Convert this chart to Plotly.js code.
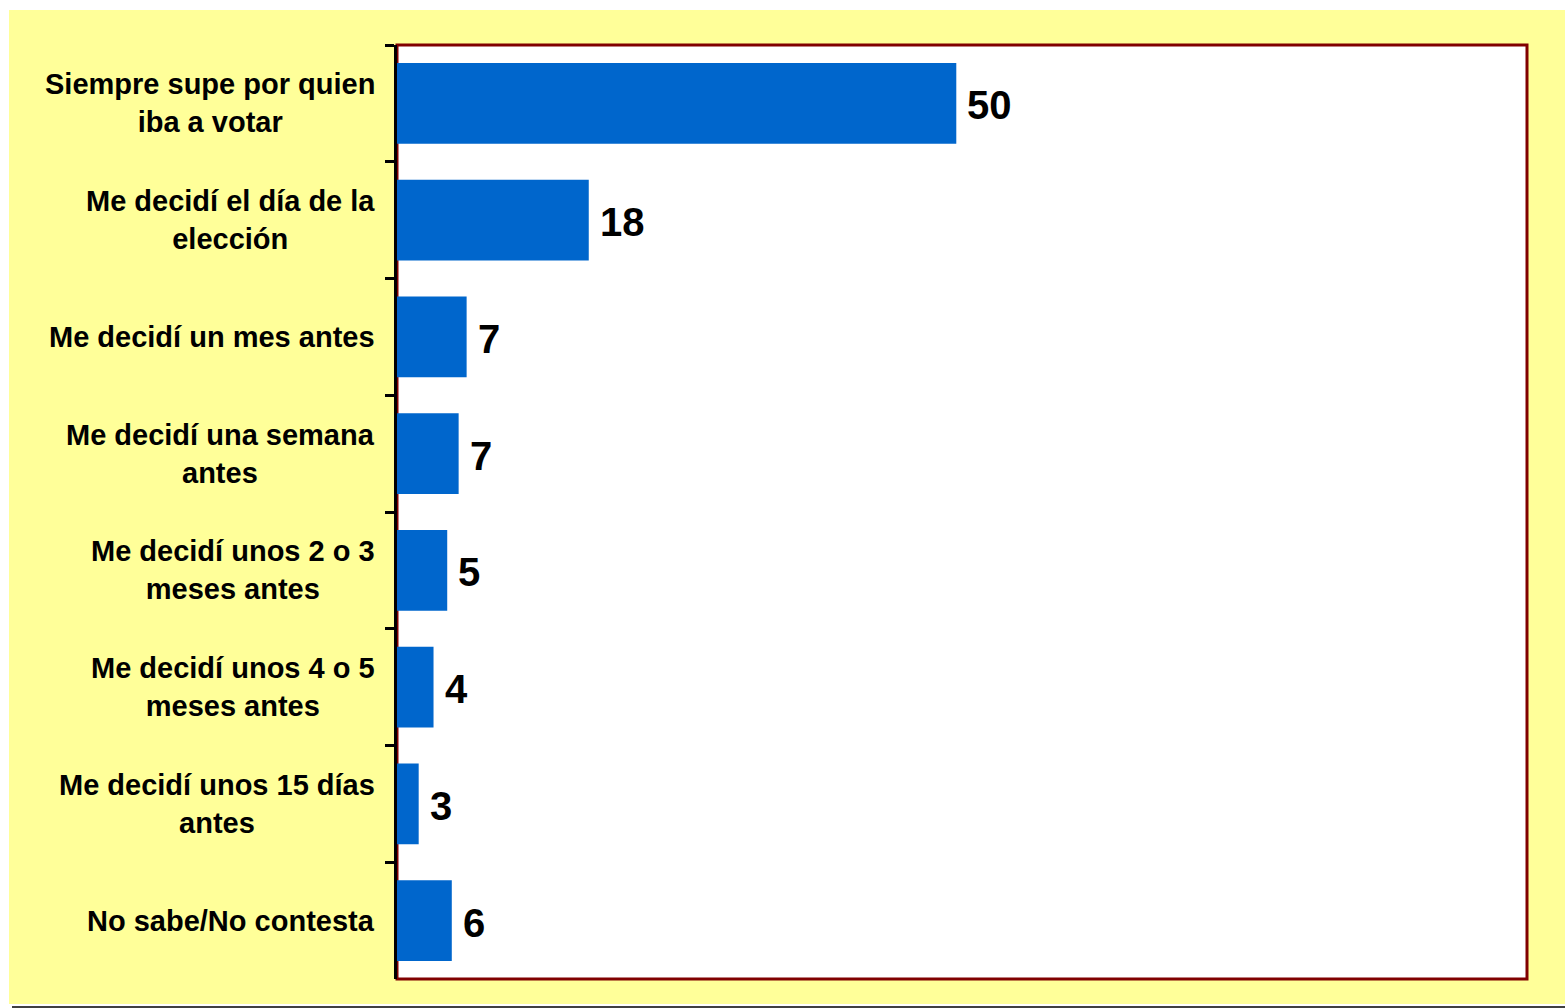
<!DOCTYPE html>
<html>
<head>
<meta charset="utf-8">
<script src="https://cdn.plot.ly/plotly-3.0.1.min.js"></script>
<style>
  html, body { margin: 0; padding: 0; background: #ffffff; width: 1565px; height: 1008px; overflow: hidden; }
  #chart { position: absolute; left: 9px; top: 10px; width: 1556px; height: 994px; }
  #rule { position: absolute; left: 12px; top: 1006px; width: 1553px; height: 2px; background: #404040; }
</style>
</head>
<body>
<div id="chart"></div>
<div id="rule"></div>
<script>
// Categories (top to bottom)
const categories = [
  "Siempre supe por quien<br>iba a votar",
  "Me decidí el día de la<br>elección",
  "Me decidí un mes antes",
  "Me decidí una semana<br>antes",
  "Me decidí unos 2 o 3<br>meses antes",
  "Me decidí unos 4 o 5<br>meses antes",
  "Me decidí unos 15 días<br>antes",
  "No sabe/No contesta"
];
// Bar lengths
const values = [50, 17.8, 7.1, 6.4, 5.4, 4.2, 2.9, 5.8];
// Data labels as printed
const valueLabels = ["50", "18", "7", "7", "5", "4", "3", "6"];

const FONT = "Liberation Sans, Arial, sans-serif";

const trace = {
  type: "bar",
  orientation: "h",
  y: categories,
  x: values,
  marker: { color: "#0066CC", line: { width: 0 } },
  hoverinfo: "none"
};

const catAnnotations = categories.map(c => ({
  xref: "paper", yref: "y",
  x: 0, y: c,
  xanchor: "right", yanchor: "middle",
  xshift: -20,
  text: "<b>" + c + "</b>",
  align: "center",
  showarrow: false,
  font: { family: FONT, size: 29, color: "#000000" }
}));

const valAnnotations = categories.map((c, i) => ({
  xref: "x", yref: "y",
  x: values[i], y: c,
  xanchor: "left", yanchor: "middle",
  xshift: 9, yshift: -2,
  text: "<b>" + valueLabels[i] + "</b>",
  showarrow: false,
  font: { family: FONT, size: 40, color: "#000000" }
}));

const layout = {
  width: 1556,
  height: 994,
  paper_bgcolor: "#FFFF99",
  plot_bgcolor: "#FFFFFF",
  margin: { l: 388, r: 38, t: 35, b: 25, pad: 0 },
  showlegend: false,
  bargap: 0.31,
  xaxis: {
    range: [1, 100],
    showgrid: false,
    zeroline: false,
    showticklabels: false,
    ticks: "",
    showline: false,
    fixedrange: true
  },
  yaxis: {
    type: "category",
    autorange: "reversed",
    showgrid: false,
    zeroline: false,
    showticklabels: false,
    ticks: "outside",
    tickson: "boundaries",
    ticklen: 9,
    tickwidth: 3,
    tickcolor: "#000000",
    showline: true,
    linecolor: "#000000",
    linewidth: 3,
    fixedrange: true
  },
  shapes: [{
    type: "rect", xref: "paper", yref: "paper",
    x0: 0, x1: 1, y0: 0, y1: 1,
    line: { color: "#800000", width: 3 },
    layer: "below"
  }],
  annotations: catAnnotations.concat(valAnnotations)
};

Plotly.newPlot("chart", [trace], layout, { displayModeBar: false, staticPlot: true });
</script>
</body>
</html>
